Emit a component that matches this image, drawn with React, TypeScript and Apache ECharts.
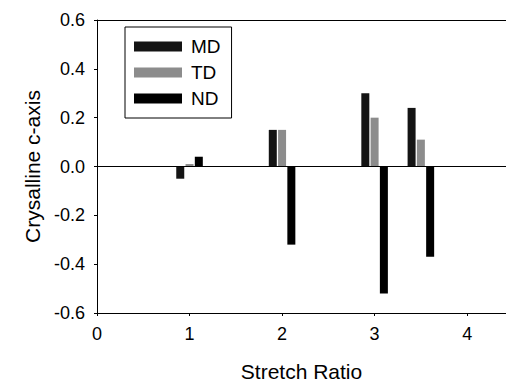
import React, { useEffect, useRef } from "react";
import * as echarts from "echarts";

const ratios = [1, 2, 3, 3.5];
const mdValues = [-0.05, 0.15, 0.3, 0.24];
const tdValues = [0.01, 0.15, 0.2, 0.11];
const ndValues = [0.04, -0.32, -0.52, -0.37];
const yTicks = [-0.6, -0.4, -0.2, 0.0, 0.2, 0.4, 0.6];
const xTicks = [0, 1, 2, 3, 4];

const FONT = "Liberation Sans, Arial, sans-serif";

export default function App() {
  const ref = useRef<HTMLDivElement>(null);
  useEffect(() => {
    if (!ref.current) return;
    const chart = echarts.init(ref.current, undefined, { renderer: "svg" });
    const mk = (vals: number[]) => vals.map((v, i) => [ratios[i], v]);
    const barCommon = {
      type: "bar" as const,
      barWidth: 8,
      barGap: "16%",
      xAxisIndex: 0,
      yAxisIndex: 0,
    };
    chart.setOption({
      animation: false,
      backgroundColor: "#fff",
      textStyle: { fontFamily: FONT, color: "#000" },
      grid: { left: 97, right: 0, top: 20, bottom: 74, containLabel: false },
      legend: {
        orient: "vertical",
        left: 125,
        top: 27,
        icon: "rect",
        itemWidth: 48,
        itemHeight: 10,
        itemGap: 7,
        padding: [10, 11, 10, 9],
        borderColor: "#000",
        borderWidth: 1,
        textStyle: { fontSize: 19, color: "#000", fontFamily: FONT, padding: [0, 0, 0, 4] },
        data: ["MD", "TD", "ND"],
      },
      xAxis: [
        {
          type: "value",
          min: 0,
          max: 4.42,
          interval: 1,
          position: "bottom",
          name: "Stretch Ratio",
          nameLocation: "middle",
          nameGap: 48,
          nameTextStyle: { fontSize: 21, color: "#000", fontFamily: FONT },
          axisLine: { show: true, onZero: false, lineStyle: { color: "#000", width: 1 } },
          axisTick: { show: true, length: 3, lineStyle: { color: "#000" } },
          axisLabel: {
            fontSize: 18,
            color: "#000",
            margin: 12,
            showMaxLabel: false,
            formatter: (v: number) => (xTicks.includes(v) ? String(v) : ""),
          },
          splitLine: { show: false },
        },
        {
          type: "value",
          min: 0,
          max: 4.42,
          position: "top",
          axisLine: { show: true, onZero: false, lineStyle: { color: "#000", width: 1 } },
          axisTick: { show: false },
          axisLabel: { show: false },
          splitLine: { show: false },
        },
      ],
      yAxis: {
        type: "value",
        min: -0.6,
        max: 0.6,
        interval: 0.2,
        name: "Crysalline c-axis",
        nameLocation: "middle",
        nameGap: 54,
        nameTextStyle: { fontSize: 21, color: "#000", fontFamily: FONT },
        axisLine: { show: true, lineStyle: { color: "#000", width: 1 } },
        axisTick: { show: true, length: 3, lineStyle: { color: "#000" } },
        axisLabel: {
          fontSize: 18,
          color: "#000",
          margin: 12,
          formatter: (v: number) => {
            const t = yTicks.find((y) => Math.abs(y - v) < 1e-9);
            return t === undefined ? "" : t.toFixed(1);
          },
        },
        splitLine: { show: false },
      },
      series: [
        {
          ...barCommon,
          name: "MD",
          itemStyle: { color: "#141414" },
          data: mk(mdValues),
          markLine: {
            silent: true,
            symbol: "none",
            label: { show: false },
            lineStyle: { color: "#000", width: 1, type: "solid" },
            data: [{ yAxis: 0 }],
          },
        },
        { ...barCommon, name: "TD", itemStyle: { color: "#8c8c8c" }, data: mk(tdValues) },
        { ...barCommon, name: "ND", itemStyle: { color: "#000" }, data: mk(ndValues) },
      ],
    });
    return () => chart.dispose();
  }, []);
  return (
    <div
      ref={ref}
      style={{ position: "fixed", left: 0, top: 0, width: 506, height: 387, background: "#fff" }}
    />
  );
}
